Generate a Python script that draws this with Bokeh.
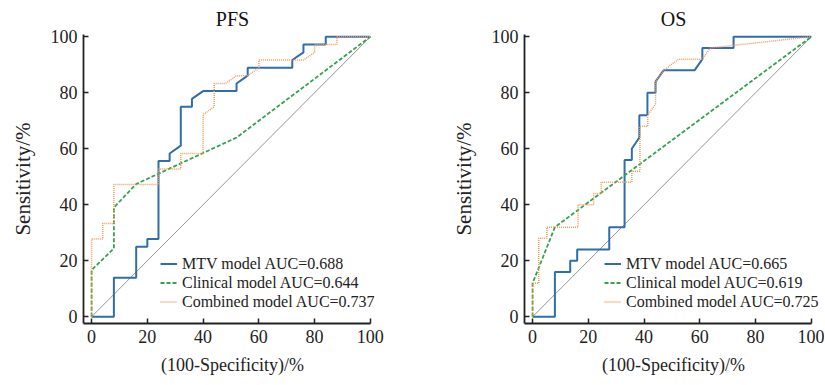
from bokeh.plotting import figure
from bokeh.layouts import row
from bokeh.models import Legend, LegendItem, FixedTicker, Range1d
from bokeh.embed import file_html
from bokeh.resources import INLINE

# ---- data ----
ticks = [0, 20, 40, 60, 80, 100]

pfs_mtv_fpr = [0, 8, 8, 16, 16, 20, 20, 24, 24, 28, 28, 32, 32, 36, 36, 40, 52, 52, 56, 56, 72, 72, 76, 76, 84, 84, 100]
pfs_mtv_tpr = [0, 0, 13.9, 13.9, 25, 25, 27.8, 27.8, 55.6, 55.6, 58.3, 61.1, 75, 75, 77.8, 80.6, 80.6, 83.3, 86.1, 88.9, 88.9, 91.7, 94.4, 97.2, 97.2, 100, 100]
pfs_clin_fpr = [0, 0, 8, 8, 16, 52, 100]
pfs_clin_tpr = [0, 16.7, 24.4, 39, 47.4, 64, 100]
pfs_comb_fpr = [0, 0, 4, 4, 8, 8, 24, 24, 32, 32, 40, 40, 44, 44, 48, 52, 56, 60, 60, 76, 80, 80, 88, 88, 100]
pfs_comb_tpr = [0, 27.8, 27.8, 33.3, 33.3, 47.2, 47.2, 52.8, 52.8, 58.3, 58.3, 72.2, 75, 83.3, 83.3, 86.1, 86.1, 88.9, 91.7, 91.7, 94.4, 97.2, 97.2, 100, 100]

os_mtv_fpr = [0, 8, 8, 13.5, 13.5, 16, 16, 27.5, 27.5, 33, 33, 35.6, 35.6, 38.3, 38.3, 41.2, 41.2, 44.1, 44.1, 47, 58.1, 60.9, 60.9, 72.1, 72.1, 100]
os_mtv_tpr = [0, 0, 16, 16, 20, 20, 24, 24, 32, 32, 56, 56, 60, 64, 72, 72, 80, 80, 84, 88, 88, 92, 96, 96, 100, 100]
os_clin_fpr = [0, 0, 8, 100]
os_clin_tpr = [0, 12, 32, 100]
os_comb_fpr = [0, 0, 2.2, 2.2, 5.1, 5.1, 16.3, 16.3, 21.9, 21.9, 24.6, 24.6, 35.6, 35.6, 38.5, 38.5, 41.3, 41.3, 44.1, 44.1, 47, 52.4, 60.8, 63.8, 63.8, 100]
os_comb_tpr = [0, 12, 12, 28, 28, 32, 32, 40, 40, 44, 44, 48, 48, 52, 52, 68, 68, 72, 76, 84, 88, 92, 92, 96, 96, 100]

diag = [0, 100]

pfs_labels = ["MTV model AUC=0.688", "Clinical model AUC=0.644", "Combined model AUC=0.737"]
os_labels = ["MTV model AUC=0.665", "Clinical model AUC=0.619", "Combined model AUC=0.725"]

FONT = "Liberation Serif"
BLUE = "#2F6DAB"
GREEN = "#34A24E"
ORANGE = "#F29A55"
GRAY = "#959595"


def panel(title, mtv, clin, comb, labels, border_left, border_right, legend_x):
    p = figure(output_backend="svg", toolbar_location=None,
               frame_width=298, frame_height=289,
               min_border_left=border_left, min_border_right=border_right,
               min_border_top=25, min_border_bottom=55,
               x_range=Range1d(-2.9, 104), y_range=Range1d(-2.4, 100.8),
               title=title)
    p.title.align = "center"
    p.title.offset = -5
    p.title.text_font = FONT
    p.title.text_font_size = "20px"
    p.title.text_font_style = "normal"
    p.title.text_color = "#111111"
    p.outline_line_color = None
    p.grid.visible = False
    p.background_fill_color = "white"
    p.border_fill_color = "white"

    for ax in (p.xaxis[0], p.yaxis[0]):
        ax.ticker = FixedTicker(ticks=ticks)
        ax.major_tick_in = 5
        ax.major_tick_out = 0
        ax.minor_tick_line_color = None
        ax.axis_line_width = 1.8
        ax.axis_line_color = "#222222"
        ax.major_tick_line_color = "#222222"
        ax.major_tick_line_width = 1.5
        ax.major_label_text_font = FONT
        ax.major_label_text_font_size = "18px"
        ax.major_label_text_color = "#222222"
        ax.axis_label_text_font = FONT
        ax.axis_label_text_font_style = "normal"
        ax.axis_label_text_color = "#222222"
    p.xaxis.bounds = (-2.9, 100)
    p.xaxis.axis_label = "(100-Specificity)/%"
    p.yaxis.axis_label = "Sensitivity/%"
    p.xaxis.axis_label_text_font_size = "18px"
    p.yaxis.axis_label_text_font_size = "21px"
    p.xaxis.major_label_standoff = 6
    p.xaxis.axis_label_standoff = 9
    p.yaxis.major_label_standoff = 6
    p.yaxis.axis_label_standoff = 13

    p.line(diag, diag, line_color=GRAY, line_width=1)
    r1 = p.line(mtv[0], mtv[1], line_color=BLUE, line_width=2)
    r2 = p.line(clin[0], clin[1], line_color=GREEN, line_width=1.8, line_dash="4 2")
    r3 = p.line(comb[0], comb[1], line_color=ORANGE, line_width=1.5, line_dash="1 1")

    leg = Legend(items=[LegendItem(label=labels[0], renderers=[r1]),
                        LegendItem(label=labels[1], renderers=[r2]),
                        LegendItem(label=labels[2], renderers=[r3])],
                 location=(legend_x, 12))
    leg.background_fill_alpha = 0
    leg.border_line_color = None
    leg.label_text_font = FONT
    leg.label_text_font_size = "16px"
    leg.label_text_color = "#222222"
    leg.glyph_width = 17
    leg.glyph_height = 19
    leg.label_height = 19
    leg.label_standoff = 5
    leg.spacing = 0
    leg.padding = 0
    leg.margin = 0
    p.add_layout(leg, "center")
    return p


p1 = panel("PFS", (pfs_mtv_fpr, pfs_mtv_tpr), (pfs_clin_fpr, pfs_clin_tpr),
           (pfs_comb_fpr, pfs_comb_tpr), pfs_labels, 83, 67, 77)
p2 = panel("OS", (os_mtv_fpr, os_mtv_tpr), (os_clin_fpr, os_clin_tpr),
           (os_comb_fpr, os_comb_tpr), os_labels, 75, 2, 80)

layout = row(p1, p2)
open("out.html", "w").write(file_html(layout, INLINE))
